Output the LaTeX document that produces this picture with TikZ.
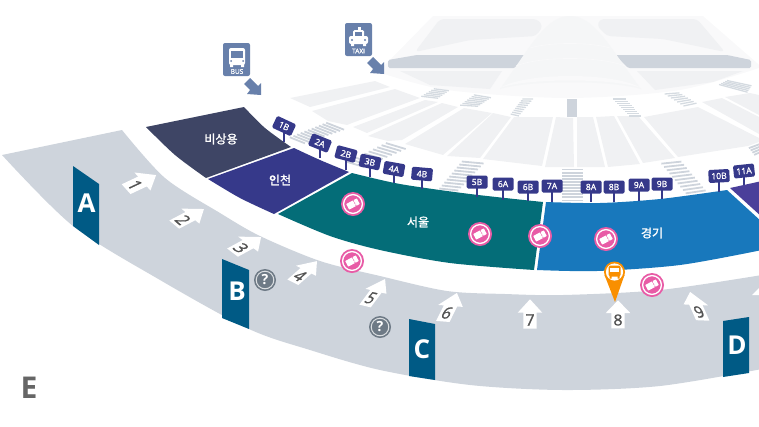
\documentclass[tikz,border=0pt]{standalone}
\usepackage{fontspec}
\setmainfont{Open Sans}
\newfontfamily\heavyfont[FakeBold=1.2]{Open Sans}
\newfontfamily\krfont[FakeBold=1.5]{Noto Sans CJK KR}
\usetikzlibrary{calc}

\definecolor{bandgrey}{HTML}{CED4DC}
\definecolor{palegrey}{HTML}{F0F1F3}
\definecolor{haze}{HTML}{F9F9FA}
\definecolor{tabblue}{HTML}{005A85}
\definecolor{gatenavy}{HTML}{36398A}
\definecolor{platenavy}{HTML}{3E4565}
\definecolor{seoulteal}{HTML}{046D78}
\definecolor{gyeonggi}{HTML}{1878BC}
\definecolor{violetzone}{HTML}{4A3F9A}
\definecolor{plateblue}{HTML}{6880AB}
\definecolor{ticketpink}{HTML}{E85BA6}
\definecolor{pinorange}{HTML}{F98F00}
\definecolor{infogrey}{HTML}{6E7A86}

\tikzset{
	zonename/.style={text=white,font=\krfont\fontsize{12}{12}\selectfont,inner sep=0pt},
	taglabel/.style={text=white,font=\bfseries\fontsize{26}{26}\selectfont,inner sep=0pt},
	gatebox/.style={fill=gatenavy,rounded corners=1.5pt,text=white,minimum width=21pt,minimum height=13pt,inner sep=0pt,font=\heavyfont\fontsize{8.6}{8.6}\selectfont},
	gatestem/.style={gatenavy,line width=1.8pt},
	crossline/.style={bandgrey,line width=1.8pt},
	section/.style={fill=palegrey},
	dropplate/.style={fill=plateblue,rounded corners=2pt},
	ticketdot/.style={circle,fill=ticketpink,minimum size=24pt,inner sep=0pt},
	infodot/.style={circle,fill=infogrey,minimum size=22pt,inner sep=0pt,text=white,font=\bfseries\fontsize{14}{14}\selectfont},
}

\newcommand{\crosswalk}[5]{
	\foreach \k in {1,...,#5} {
		\pgfmathsetmacro\t{(\k-0.5)/#5}
		\draw[crossline] ($#1!\t!#4$) -- ($#2!\t!#3$);
	}
}
\newcommand{\gatetag}[6]{
	\coordinate (#1foot) at (#2,#5);
	\draw[gatestem] (#2,#3) -- (#1foot);
	\node[gatebox,rotate=#4] (#1) at (#2,#3) {#6};
}
\newcommand{\ticket}[3]{
	\node[ticketdot] (#1) at (#2,#3) {};
	\draw[white,line width=1.3pt] (#1) circle (9.4);
	\fill[white,shift={(#1)},rotate=28,rounded corners=0.5pt] (-6,-3.2) rectangle (6,3.2);
	\fill[ticketpink,shift={(#1)},rotate=28] (1.6,-3.2) rectangle (2.3,-1.8) (1.6,-0.7) rectangle (2.3,0.7) (1.6,1.8) rectangle (2.3,3.2);
}
% matrix: centre x, y, then the local x and y vectors
\newcommand{\wayarrow}[5]{
	\begin{scope}[cm={#4,(#2pt,-#3pt)}]
		\fill[white] (0,-20.7) -- (12.3,-7.3) -- (6.7,-7.3) -- (6.7,8.7) -- (-6.7,8.7) -- (-6.7,-7.3) -- (-12.3,-7.3) -- cycle;
		\node[transform shape,text=black!68,font=\heavyfont\fontsize{16}{16}\selectfont,inner sep=0pt] (#1) at (0,0) {#5};
	\end{scope}
}
\newcommand{\droparrow}[2]{
	\fill[plateblue,shift={(#1,#2)}] (-11,-17) -- (-17,-11) -- (-11,-5) -- (-14,-1) -- (0,0) -- (0,-12) -- (-3,-9) -- cycle;
}

\begin{document}
\begin{tikzpicture}[x=1pt,y=-1pt]
	\useasboundingbox (0,0) rectangle (759,426);

	% terminal roof
	\fill[haze] (433,16) -- (703,16) -- (765,70) -- plot[smooth] coordinates {(765,66) (680,90) (567,98) (447,90) (378,72)} -- cycle;
	\fill[palegrey,rounded corners=4pt] (440,19) -- (537,19) -- (543,26) -- (536,36) -- (470,40) -- (415,52) -- cycle;
	\fill[palegrey,rounded corners=4pt] (697,19) -- (600,19) -- (597,26) -- (607,36) -- (663,39) -- (725,52) -- cycle;
	\fill[palegrey] (400,71) -- (502,71) -- (490,89) -- (430,85) -- cycle;
	\fill[palegrey] (637,71) -- (743,71) -- (713,82) -- (655,90) -- cycle;
	\fill[bandgrey,rounded corners=1.5pt] (388,60) -- (417,55) -- (525,55) -- (515,68) -- (388,68) -- cycle;
	\fill[bandgrey,rounded corners=1.5pt] (615,55) -- (727,55) -- (751,60) -- (751,68) -- (628,68) -- cycle;
	\fill[haze!60!palegrey] (500,89) .. controls (530,48) and (545,16) .. (570,16) .. controls (595,16) and (610,48) .. (641,89) .. controls (610,80) and (530,80) .. cycle;
	\fill[haze] (500,88) .. controls (525,72) and (615,72) .. (641,88) .. controls (615,78) and (525,78) .. cycle;
	\draw[haze,line width=0.7pt] (516,66) .. controls (540,56) and (600,56) .. (625,66);
	\draw[haze,line width=0.7pt] (530,48) .. controls (550,42) and (590,42) .. (610,48);

	% forecourt lanes
	\foreach \lane in {
		{(290,98) -- (375,81) -- (390,87) -- (310,107)},
		{(312,111) -- (395,89) -- (420,98) -- (352,123) -- (347,125) -- (328,121)},
		{(353,127) -- (425,100) -- (438,102) -- (367,133)},
		{(368,136) -- (442,103) -- (458,107) -- (402,140) -- (388,141)},
		{(405,144) -- (464,108) -- (492,113) -- (443,155)},
		{(447,156) -- (493,113) -- (511,117) -- (480,158)},
		{(483,159) -- (514,117) -- (553,117) -- (542,166)},
		{(545,167) -- (556,117) -- (573,118) -- (574,167)},
		{(577,167) -- (577,117) -- (593,117) -- (605,167)},
		{(608,167) -- (596,117) -- (614,116) -- (640,164)},
		{(643,163) -- (617,116) -- (638,116) -- (675,158)},
		{(678,157) -- (644,117) -- (698,107) -- (759,138) -- (759,142) -- (748,146)},
		{(702,102) -- (722,98) -- (759,117) -- (759,134)},
		{(725,97) -- (750,93) -- (759,95) -- (759,115)}}
	{
		\fill[section] \lane -- cycle;
	}

	% crossings
	\crosswalk{(328,122)}{(346,129)}{(303,144)}{(288,138)}{11}
	\crosswalk{(388,142)}{(408,148)}{(362,168)}{(345,163)}{10}
	\crosswalk{(463,160)}{(485,162)}{(457,192)}{(438,190)}{10}
	\crosswalk{(562,168)}{(583,168)}{(583,202)}{(562,202)}{11}
	\crosswalk{(660,162)}{(680,160)}{(707,192)}{(687,195)}{10}
	\crosswalk{(748,147)}{(762,142)}{(768,150)}{(755,156)}{4}
	\begin{scope}[crossline/.append style={bandgrey!85!white,line width=1.3pt}]
		\crosswalk{(435,88)}{(450,90)}{(437,99)}{(420,97)}{6}
		\crosswalk{(475,94)}{(492,97)}{(477,107)}{(459,106)}{7}
		\crosswalk{(523,98)}{(534,98)}{(518,117)}{(510,115)}{9}
		\crosswalk{(612,98)}{(625,98)}{(642,117)}{(630,117)}{9}
		\crosswalk{(663,93)}{(678,92)}{(698,104)}{(685,107)}{7}
		\crosswalk{(728,80)}{(752,85)}{(747,93)}{(718,85)}{5}
	\end{scope}
	\fill[bandgrey] (567,99) rectangle (577,117);

	% walkway
	\fill[bandgrey] (2,155) -- plot[smooth] coordinates {(122,130) (165,178) (220,213) (260,236) (320,261) (380,276) (447,291) (505,294) (563,295) (660,290) (762,275)}
		-- plot[smooth] coordinates {(762,369) (660,386) (563,390) (470,385) (380,370) (310,350) (249,329) (160,280) (73,226) (2,155)} -- cycle;

	% bays
	\fill[platenavy] plot[smooth] coordinates {(146,127) (175,155) (206,178)} -- plot[smooth] coordinates {(291,147) (265,128) (244,107)} -- cycle;
	\fill[gatenavy] plot[smooth] coordinates {(208,179) (240,198) (274,214)} -- plot[smooth] coordinates {(349,172) (320,160) (294,148)} -- cycle;
	\fill[seoulteal] plot[smooth] coordinates {(278,214) (330,236) (380,250) (450,263) (534,270)} -- plot[smooth] coordinates {(543,202) (470,194) (400,184) (352,173)} -- cycle;
	\fill[gyeonggi] plot[smooth] coordinates {(537,270) (597,271) (680,265) (762,250)} -- (762,222) -- plot[smooth] coordinates {(727,190) (660,199) (600,203) (546,202)} -- cycle;
	\fill[violetzone] (730,188) -- (762,181) -- (762,217) -- cycle;

	\node[zonename] (emergency) at (221,139) {비상용};
	\node[zonename] (incheon) at (280,180) {인천};
	\node[zonename] (seoul) at (418,222) {서울};
	\node[zonename] (gg) at (652,233) {경기};

	% entrance tags
	\fill[tabblue] (73,166) -- (99,184) -- (99,245) -- (73,226) -- cycle;
	\fill[tabblue] (222,259) -- (249,270) -- (249,329) -- (222,318) -- cycle;
	\fill[tabblue] (409,319) -- (435,324) -- (435,380) -- (409,376) -- cycle;
	\fill[tabblue] (723,321) -- (749,317) -- (749,373) -- (723,377) -- cycle;
	\node[taglabel] (tagA) at (86.5,203) {A};
	\node[taglabel] (tagB) at (237,291) {B};
	\node[taglabel] (tagC) at (422,349) {C};
	\node[taglabel] (tagD) at (737,345) {D};
	\node[text=black!60,font=\bfseries\fontsize{30}{30}\selectfont,inner sep=0pt] (terminalE) at (29,388) {E};

	% walking arrows
	\wayarrow{way1}{135}{185}{0.65,-0.73,1.02,0.48}{1}
	\wayarrow{way2}{183}{220}{0.73,-0.61,1.01,0.53}{2}
	\wayarrow{way3}{241}{248}{0.81,-0.61,0.97,0.53}{3}
	\wayarrow{way4}{300}{276}{0.81,-0.41,0.82,0.72}{4}
	\wayarrow{way5}{371}{298}{0.85,-0.2,0.68,0.92}{5}
	\wayarrow{way6}{447}{313}{1,-0.08,0.48,0.97}{6}
	\wayarrow{way7}{530}{320}{1,0,0,1}{7}
	\wayarrow{way8}{618}{320}{1,0,0,0.95}{8}
	\wayarrow{way9}{699}{312}{1,-0.04,-0.43,0.97}{9}
	\fill[white] (752,295) -- (760,287) -- (760,295) -- cycle;

	% markers
	\ticket{ticketA}{353}{204}
	\ticket{ticketB}{352}{261}
	\ticket{ticketC}{480}{234}
	\ticket{ticketD}{540}{236}
	\ticket{ticketE}{606}{239}
	\ticket{ticketF}{652}{285}
	\foreach \nm/\px/\py in {infoA/265/280,infoB/380/327} {
		\node[infodot] (\nm) at (\px,\py) {?};
		\draw[white!75!infogrey,line width=1pt] (\nm) circle (8.8);
	}

	\fill[pinorange] (604.5,275) -- (615,302) -- (624.5,275) -- cycle;
	\node[circle,fill=pinorange,minimum size=21pt,inner sep=0pt] (buspin) at (614.5,272) {};
	\fill[white] (buspin) circle (8.6);
	\fill[pinorange,rounded corners=1.5pt] (608.5,265.5) rectangle (620.5,276.5);
	\fill[white] (610,268) rectangle (619,272);
	\fill[pinorange] (609.5,276) rectangle (611.5,278.5) (617.5,276) rectangle (619.5,278.5);

	% gates
	\gatetag{g1B}{284}{126}{-25}{142}{1B}
	\gatetag{g2A}{320}{143}{-22}{158}{2A}
	\gatetag{g2B}{346}{154}{-15}{170}{2B}
	\gatetag{g3B}{370}{162}{-12}{177}{3B}
	\gatetag{g4A}{394}{169}{-10}{183}{4A}
	\gatetag{g4B}{422}{174}{-5}{189}{4B}
	\gatetag{g5B}{477}{182}{0}{197}{5B}
	\gatetag{g6A}{503}{184}{0}{200}{6A}
	\gatetag{g6B}{528}{187}{0}{201}{6B}
	\gatetag{g7A}{552}{186}{0}{202}{7A}
	\gatetag{g8A}{591}{187}{0}{202}{8A}
	\gatetag{g8B}{614}{187}{0}{202}{8B}
	\gatetag{g9A}{639}{185}{0}{201}{9A}
	\gatetag{g9B}{662}{184}{0}{199}{9B}
	\gatetag{g10B}{719}{176}{3}{192}{10B}
	\gatetag{g11A}{744}{171}{6}{185}{11A}

	% bus and taxi plates
	\fill[dropplate] (223,43) rectangle (250,76);
	\fill[white,rounded corners=2pt] (229,48) rectangle (245,65);
	\fill[plateblue] (231,51) rectangle (243,58);
	\fill[plateblue] (231,61) circle (1) (243,61) circle (1);
	\fill[white] (230,64) rectangle (233,67) (241,64) rectangle (244,67);
	\node[text=white,font=\heavyfont\fontsize{6.5}{6.5}\selectfont,inner sep=0pt] (busword) at (237,71.5) {BUS};
	\droparrow{261}{95}

	\fill[dropplate] (345,23) rectangle (372,56);
	\fill[white] (357.5,27) rectangle (360.5,30);
	\fill[white,rounded corners=1.5pt] (353,30) rectangle (364,38);
	\fill[plateblue] (355,32) rectangle (362,36);
	\fill[white,rounded corners=2pt] (349,36) rectangle (368,44);
	\fill[plateblue] (352,40) circle (1.2) (365,40) circle (1.2);
	\fill[white] (351,44) rectangle (354,46) (363,44) rectangle (366,46);
	\node[text=white,font=\heavyfont\fontsize{6.5}{6.5}\selectfont,inner sep=0pt] (taxiword) at (358.5,51) {TAXI};
	\droparrow{384}{74}
\end{tikzpicture}
\end{document}
